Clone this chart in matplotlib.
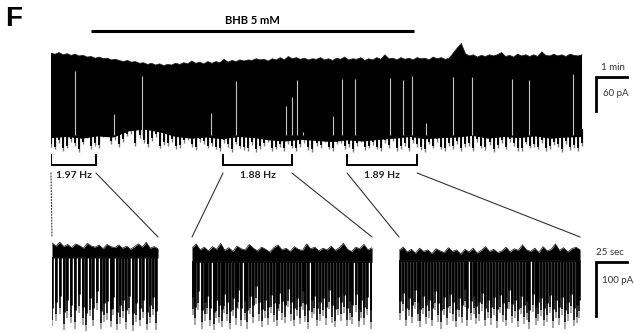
import numpy as np
import matplotlib
matplotlib.use("Agg")
import matplotlib.pyplot as plt
from matplotlib.patches import ConnectionPatch

# ---------------- data ----------------
main_duration_min = 17.13          # length of the long recording shown (min)

# upper edge of the long trace (pA, 0 = initial holding level)
main_top = [
    -2, -4, -1, -5, -3, -6, -4, -7, -6, -9,
    -8, -11, -9, -12, -11, -14, -13, -15, -17, -15,
    -18, -17, -20, -19, -22, -20, -23, -21, -24, -22,
    -23, -20, -22, -19, -21, -16, -20, -18, -21, -17,
    -20, -17, -19, -13, -18, -15, -17, -14, -16, -14,
    -15, -12, -14, -13, -16, -12, -14, -10, -14, -8,
    -12, -10, -13, -11, -14, -12, -13, -10, -14, -12,
    -15, -11, -13, -9, -14, -12, -13, -10, -15, -12,
    -14, -10, -13, -5, -12, -11, -14, -10, -13, -11,
    -14, -10, -12, -11, -14, -9, -12, -10, -13, -11,
    -2, 7, 15, -3, -7, -5, -9, -6, -8, -5,
    -7, -5, -1, -8, -6, -9, -4, -7, -5, -8,
    -5, -8, 0, -6, -7, -4, -7, -5, -8, -4, -6, -7, -5,
]
# lower limit of the solid part of the long trace (pA)
main_body_bottom = [
    -152, -150, -153, -149, -151, -140, -137, -142, -150, -153,
    -151, -154, -150, -152, -156, -158, -155, -157, -159, -156,
    -158, -155, -153, -150, -154, -152, -151, -148, -153, -150,
    -152, -149, -153, -151, -150,
]
# depths of the event tips hanging below the solid part (pA)
main_bottom = [
    -168, -172, -161, -175, -170, -158, -166, -176, -163, -152,
    -171, -165, -169, -150, -147, -162, -155, -168, -158, -149,
    -145, -166, -152, -160, -167, -157, -150, -170, -164, -166,
    -158, -171, -169, -160, -155, -167, -173, -159, -162, -170,
    -165, -172, -174, -161, -168, -176, -163, -170, -173, -175,
    -164, -176, -171, -166, -159, -175, -172, -168, -174, -162,
    -170, -175, -167, -161, -173, -176, -165, -169, -158, -172,
    -174, -163, -160, -171, -168, -176, -166, -159, -173, -170,
    -164, -172, -175, -161, -169, -157, -174, -171, -166, -175,
    -160, -168, -173, -176, -163, -170, -158, -172, -175, -165,
    -171, -162, -174, -168, -166, -175, -159, -170, -173, -164,
    -176, -169, -161, -172, -158, -166, -174, -175, -163, -170,
    -168, -172, -160, -175, -171, -164, -167, -176, -162, -173, -169, -174, -166,
]
# long silent intervals visible as light lines inside the long trace
gap_times = [0.77, 2.03, 2.94, 5.16, 5.97, 7.58, 7.77, 7.94, 8.13, 9.10, 9.39,
             9.81, 10.94, 11.35, 11.65, 12.10, 12.97, 13.58, 14.87, 15.42, 16.84]
gap_tops = [-34, -109, -42, -108, -51, -95, -79, -49, -141, -113, -48,
            -48, -46, -49, -42, -125, -44, -44, -48, -49, -39]

bhb_window = (1.3, 11.7)           # min
bhb_label = "BHB 5 mM"
bracket_windows = [(0.0, 1.45), (5.55, 7.77), (9.55, 11.81)]   # min
freq_labels = ["1.97 Hz", "1.88 Hz", "1.89 Hz"]

inset_durations = [85.5, 145.2, 146.0]   # s
inset_tops = [
    [4, -2, 5, -3, 1, -5, 2, -1, -6, 3, -2, -4, 0, -7, 1, -3, -5, 0, -6, -2,
     -8, -3, 2, -4, 5, -6, -3, -7],
    [-6, 2, -9, -4, -11, -3, -8, 3, -10, -5, -12, -2, -7, -9, 1, -6, -11, -4,
     -8, -13, -5, 0, -9, -6, -12, -3, -8, -10, 2, -7, -4, -11, -6, -9, -2, -10,
     -5, 3, -8, -12, -4, -7, 1, -9, -5],
    [-10, -4, -13, -8, -15, -6, -12, -9, -16, -7, -11, -14, -5, -12, -9, -17,
     -8, -13, -6, -15, -10, -3, -12, -8, -14, -11, -4, -13, -7, -10, 0, -9,
     -12, -6, -14, -3, -11, -8, 2, -10, -5, -13, -7, -4, -9],
]
inset_band_floor = [-24, -32, -30]        # pA, lower edge of dense noise band
spike_times = [
    [0.3, 3.5, 6.4, 9.4, 12.4, 15.3, 18.8, 22.0, 25.0, 27.4, 30.4, 33.3, 36.3,
     39.2, 41.7, 44.6, 47.4, 49.5, 52.4, 55.1, 57.5, 59.9, 62.4, 65.1, 68.0,
     71.0, 73.7, 76.3, 79.0, 81.7, 83.9],
    [0.5, 2.8, 5.2, 7.9, 10.4, 12.1, 14.8, 17.5, 19.2, 21.6, 24.0, 25.9, 28.1,
     30.6, 33.0, 35.2, 37.1, 39.9, 42.4, 44.2, 46.9, 49.5, 51.8, 54.1, 56.6,
     58.8, 61.1, 63.6, 65.9, 68.2, 70.5, 72.9, 75.1, 77.6, 79.8, 82.1, 84.6,
     86.8, 89.2, 91.5, 93.9, 96.4, 98.7, 101.0, 103.4, 105.9, 108.1, 110.6,
     112.8, 115.2, 117.5, 120.0, 122.3, 124.8, 127.1, 129.4, 131.9, 134.3,
     136.6, 139.1, 141.5, 144.3],
    [0.6, 3.1, 5.4, 7.8, 10.3, 12.5, 15.0, 17.3, 19.6, 22.1, 24.4, 26.8, 29.2,
     31.4, 33.9, 36.3, 38.5, 41.0, 43.4, 45.7, 48.1, 50.6, 52.9, 55.2, 57.7,
     60.1, 62.3, 64.8, 67.2, 69.5, 71.9, 74.4, 76.6, 79.1, 81.5, 83.8, 86.2,
     88.7, 90.9, 93.4, 95.8, 98.1, 100.5, 103.0, 105.2, 107.7, 110.1, 112.4,
     114.8, 117.3, 119.5, 122.0, 124.4, 126.7, 129.1, 131.6, 133.8, 136.3,
     138.7, 141.0, 143.4, 145.5],
]
spike_depths = [
    [-150, -140, -128, -158, -135, -145, -155, -125, -148, -160,
     -132, -150, -120, -156, -142, -138, -152, -130, -158, -146,
     -135, -155, -128, -160, -142, -150, -136, -158, -145, -130,
     -157],
    [-130, -148, -120, -155, -140, -128, -150, -158, -135, -145,
     -152, -125, -140, -156, -132, -148, -118, -150, -138, -155,
     -128, -145, -110, -140, -152, -135, -148, -126, -142, -150,
     -122, -138, -145, -115, -140, -150, -132, -147, -120, -143,
     -155, -136, -128, -150, -140, -132, -148, -118, -145, -152,
     -130, -140, -126, -150, -138, -146, -124, -152, -136, -148,
     -130, -155],
    [-138, -122, -150, -132, -145, -118, -140, -152, -128, -146,
     -135, -150, -120, -142, -155, -130, -148, -125, -140, -152,
     -133, -145, -115, -150, -138, -128, -147, -140, -122, -150,
     -136, -148, -130, -153, -126, -142, -150, -118, -144, -135,
     -152, -128, -146, -138, -155, -124, -148, -140, -132, -150,
     -142, -126, -153, -136, -148, -130, -155, -140, -125, -150,
     -145, -135],
]
main_scale = (1, 60)      # 1 min, 60 pA
inset_scale = (25, 100)   # 25 sec, 100 pA

# ---------------- layout ----------------
W, H, DPI = 634, 333, 100
PX_MIN = 31.0            # px per minute (main)
PX_PA_M = 34.0 / 60.0    # px per pA (main)
PX_S = 31.0 / 25.0       # px per second (insets)
PX_PA_I = 54.0 / 100.0   # px per pA (insets)

fig = plt.figure(figsize=(W / DPI, H / DPI), dpi=DPI)
FONT = ["Lato", "DejaVu Sans"]


def add_ax(left, top, width, height):
    ax = fig.add_axes([left / W, 1 - (top + height) / H, width / W, height / H])
    ax.set_axis_off()
    return ax


# main axes: px x 51..634, y 0..200, zero pA at px 52
axm = add_ax(51, 0, 583, 200)
axm.set_xlim(0, 583 / PX_MIN)
axm.set_ylim(-(200 - 52) / PX_PA_M, 52 / PX_PA_M)

t_top = np.linspace(0, main_duration_min, len(main_top))
t_body = np.linspace(0, main_duration_min, len(main_body_bottom))
t_bot = np.linspace(0, main_duration_min, len(main_bottom))
mb = np.array(main_bottom)
# hanging event tips (grey ends, black shafts)
axm.vlines(t_bot, -135, mb, color="#7a7a7a", lw=1.0, zorder=1)
axm.vlines(t_bot, -135, mb + 5, color="black", lw=1.4, zorder=1)
# solid body
axm.fill(np.r_[t_top, t_body[::-1]], np.r_[main_top, main_body_bottom[::-1]],
         color="black", lw=0, zorder=2)
axm.plot(t_top, main_top, color="#202020", lw=0.6, zorder=2)
axm.vlines(gap_times, gap_tops, -146, color="#c4c4c4", lw=0.8, zorder=3)

# drug bar
y_bar = 21 / PX_PA_M
axm.plot(bhb_window, [y_bar, y_bar], color="black", lw=2.2, solid_capstyle="butt")
axm.text(np.mean(bhb_window), 32 / PX_PA_M, bhb_label, ha="center", va="center",
         fontsize=8, fontweight="bold", family=FONT)

# brackets + frequency labels
yb_top = -(155 - 52) / PX_PA_M
yb_bot = -(165 - 52) / PX_PA_M
y_lab = -(175 - 52) / PX_PA_M
for (a, b), lab in zip(bracket_windows, freq_labels):
    axm.plot([a, a, b, b], [yb_top, yb_bot, yb_bot, yb_top], color="black",
             lw=1.4, solid_joinstyle="miter")
    axm.text((a + b) / 2, y_lab, lab, ha="center", va="center", fontsize=7.5,
             fontweight="bold", family=FONT, color="#222222")

# main scale bar
sx0 = (596 - 51) / PX_MIN
sy0 = -(77 - 52) / PX_PA_M
axm.plot([sx0 + main_scale[0], sx0, sx0], [sy0, sy0, sy0 - main_scale[1]],
         color="black", lw=2.0, solid_joinstyle="miter", clip_on=False)
axm.text(sx0 + main_scale[0] / 2 + 0.05, sy0 + 17, f"{main_scale[0]} min",
         ha="center", va="center", fontsize=7, family=FONT, color="#333333")
axm.text(sx0 + 0.22, sy0 - 30, f"{main_scale[1]} pA", ha="left", va="center",
         fontsize=7, family=FONT, color="#333333")

# insets
inset_lefts = [52, 192, 399]
insets = []
for i, dur in enumerate(inset_durations):
    width = dur * PX_S if i < 2 else (634 - inset_lefts[i])
    ax = add_ax(inset_lefts[i], 235, width, 98)
    ax.set_xlim(0, width / PX_S)
    ax.set_ylim(-(333 - 245) / PX_PA_I, (245 - 235) / PX_PA_I)
    tt = np.linspace(0, dur, len(inset_tops[i]))
    st = np.array(spike_times[i])
    sd = np.array(spike_depths[i])
    fl = inset_band_floor[i]
    ax.vlines(st, fl + 2, sd, color="#8c8c8c", lw=1.1)
    ax.vlines(st, fl + 2, sd + 12, color="#111111", lw=1.2)
    ax.vlines(st, fl + 2, sd + 34, color="black", lw=1.85)
    ax.fill_between(tt, inset_tops[i], fl, color="black", lw=0)
    ax.plot(tt, inset_tops[i], color="#303030", lw=0.6)
    insets.append(ax)

# inset scale bar (in third inset)
ax3 = insets[2]
bx0 = (596 - 399) / PX_S
by0 = -(262 - 245) / PX_PA_I
ax3.plot([bx0 + inset_scale[0], bx0, bx0], [by0, by0, by0 - inset_scale[1]],
         color="black", lw=2.0, solid_joinstyle="miter", clip_on=False)
ax3.text(bx0 + inset_scale[0] / 2 - 1, by0 + 17, f"{inset_scale[0]} sec",
         ha="center", va="center", fontsize=7, family=FONT, color="#333333")
ax3.text(bx0 + 5, by0 - 35, f"{inset_scale[1]} pA", ha="left", va="center",
         fontsize=7, family=FONT, color="#333333")

# connectors from brackets to expanded traces
y_con_main = -(173 - 52) / PX_PA_M
y_con_ins = (245 - 237) / PX_PA_I
for i, (a, b) in enumerate(bracket_windows):
    ax = insets[i]
    for j, (xa, xb) in enumerate([(a, 0), (b, inset_durations[i])]):
        con = ConnectionPatch(xyA=(xa, y_con_main), coordsA=axm.transData,
                              xyB=(xb, y_con_ins), coordsB=ax.transData,
                              color="#333333", lw=0.8,
                              linestyle=":" if (i == 0 and j == 0) else "-")
        fig.add_artist(con)

fig.text(5 / W, 1 - 19 / H, "F", fontsize=20, fontweight="bold",
         family=["Liberation Sans", "DejaVu Sans"], ha="left", va="center")

fig.savefig("out.png", dpi=DPI)
